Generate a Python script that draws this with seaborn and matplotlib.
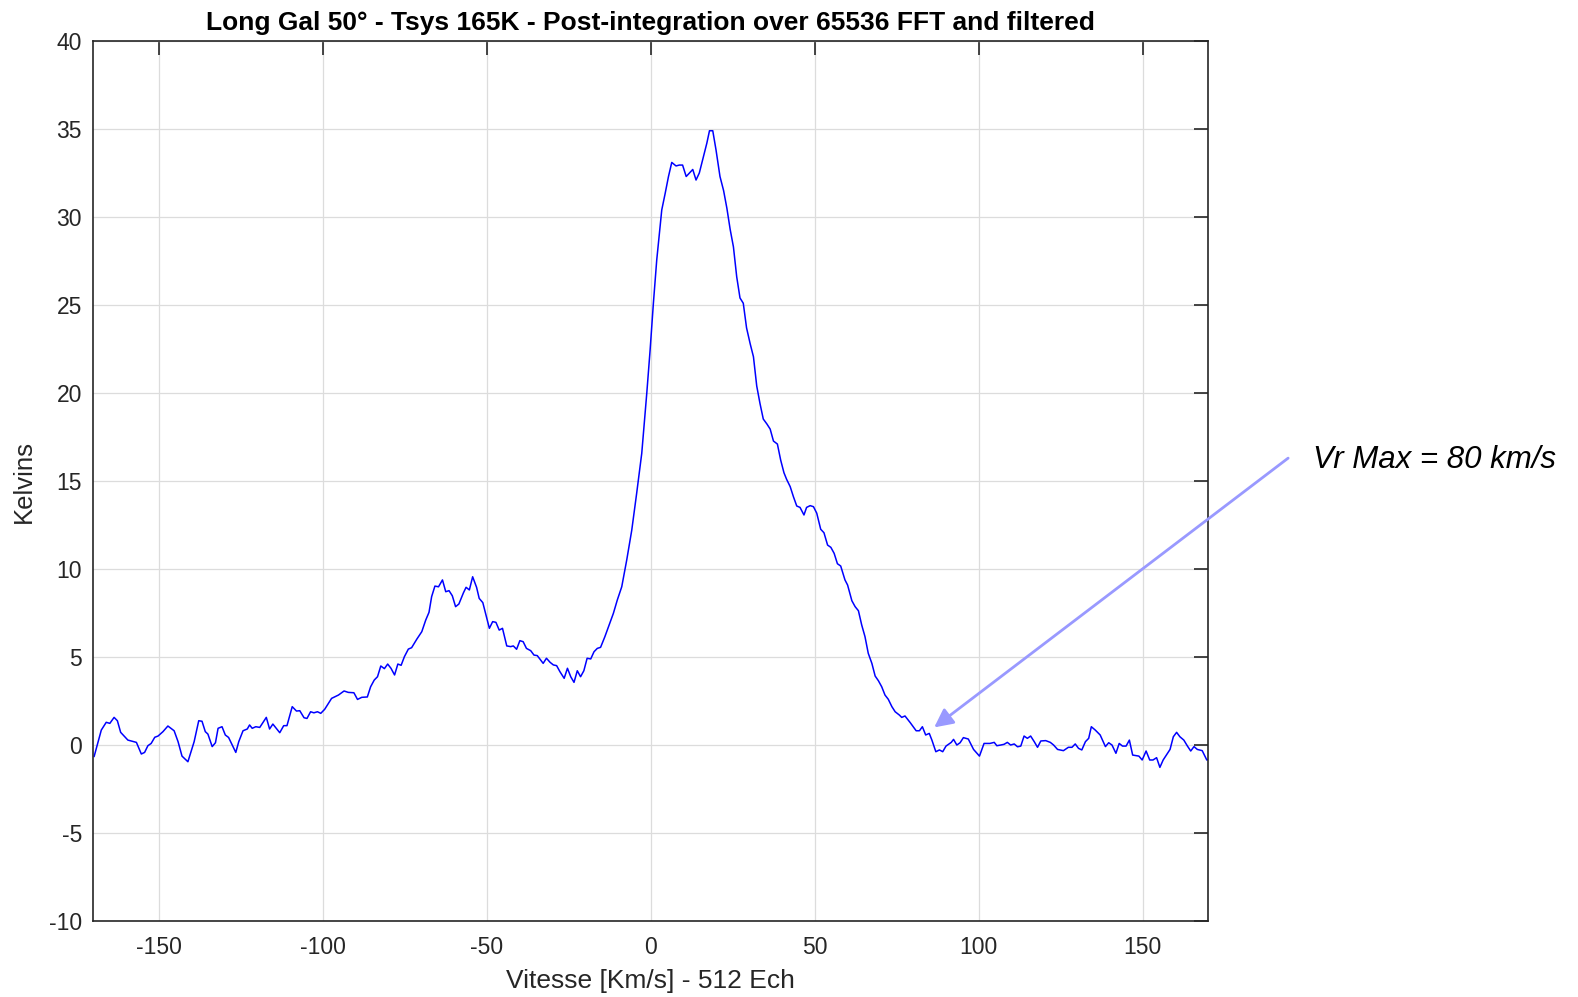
import numpy as np
import pandas as pd
import matplotlib
matplotlib.use("Agg")
import matplotlib.pyplot as plt
import seaborn as sns

# spectrum (velocity in km/s, temperature in K)
vitesse = [
    -169.7, -167.5, -166.0, -164.9, -163.6, -162.6, -161.6, -159.4, -156.8, -155.3,
    -154.3, -153.3, -152.3, -151.2, -150.2, -148.7, -147.2, -145.3, -144.1, -142.9,
    -141.1, -139.2, -137.8, -136.8, -135.8, -135.0, -133.7, -132.7, -131.9, -130.7,
    -129.7, -128.7, -126.5, -125.6, -124.3, -123.0, -122.3, -121.5, -120.4, -119.2,
    -117.2, -116.2, -115.2, -113.1, -111.9, -110.9, -109.3, -108.0, -107.0, -105.7,
    -104.8, -103.7, -102.7, -101.6, -100.6, -99.4, -97.3, -95.2, -93.5, -92.2,
    -90.5, -89.4, -88.1, -86.4, -85.4, -84.3, -83.3, -82.3, -81.2, -80.2,
    -79.2, -78.1, -77.1, -76.1, -75.1, -73.9, -72.9, -71.3, -69.8, -68.6,
    -67.6, -66.8, -65.8, -64.7, -63.5, -62.5, -61.5, -60.5, -59.5, -58.5,
    -57.1, -56.3, -55.3, -54.3, -53.1, -52.3, -51.2, -49.2, -48.2, -47.2,
    -46.2, -45.2, -43.9, -42.7, -41.9, -40.9, -39.9, -38.9, -37.9, -36.6,
    -35.6, -34.6, -33.6, -32.8, -31.8, -30.7, -29.7, -28.7, -27.7, -26.4,
    -25.4, -24.4, -23.4, -22.4, -21.4, -20.4, -19.4, -18.3, -17.3, -16.3,
    -15.3, -14.0, -12.5, -11.4, -10.2, -8.85, -7.33, -5.8, -4.3, -2.75,
    -1.22, -0.2, 0.8, 1.82, 3.35, 4.4, 5.4, 6.4, 7.7, 8.7,
    9.7, 10.8, 11.8, 12.8, 13.8, 14.8, 16.0, 17.1, 17.9, 18.9,
    19.9, 21.1, 22.2, 23.2, 24.2, 25.2, 26.2, 27.2, 28.2, 29.2,
    30.3, 31.3, 32.3, 33.3, 34.3, 35.4, 36.4, 37.4, 38.6, 39.6,
    40.6, 41.4, 42.5, 43.5, 44.5, 45.5, 46.7, 47.5, 48.6, 49.6,
    50.6, 51.8, 52.8, 53.9, 54.9, 55.9, 56.9, 57.9, 59.2, 60.0,
    61.3, 62.3, 63.3, 64.3, 65.3, 66.3, 67.4, 68.4, 69.4, 70.4,
    71.4, 72.4, 73.5, 74.5, 75.8, 76.5, 77.5, 79.1, 80.9, 81.9,
    82.8, 83.8, 84.9, 85.7, 86.9, 88.0, 89.0, 90.0, 91.6, 92.3,
    93.3, 94.3, 95.3, 96.8, 98.4, 100.2, 101.6, 103.4, 104.7, 105.5,
    106.7, 107.7, 108.7, 109.7, 110.8, 111.8, 112.8, 113.8, 114.8, 115.8,
    116.9, 117.9, 118.9, 120.4, 121.8, 122.8, 124.0, 125.8, 127.3, 128.4,
    129.4, 130.4, 131.4, 132.5, 133.5, 134.3, 135.5, 137.0, 138.6, 139.6,
    140.6, 141.8, 142.8, 143.8, 144.9, 145.9, 146.9, 148.8, 149.8, 151.0,
    152.1, 153.1, 154.2, 155.2, 156.2, 158.3, 159.3, 160.3, 161.3, 162.5,
    163.6, 164.6, 165.6, 166.6, 168.1, 169.5, 170.2,
]
kelvins = [
    -0.66, 0.85, 1.29, 1.23, 1.57, 1.38, 0.72, 0.28, 0.15, -0.51,
    -0.42, -0.04, 0.09, 0.44, 0.51, 0.76, 1.08, 0.81, 0.19, -0.63,
    -0.95, 0.19, 1.38, 1.35, 0.76, 0.62, -0.09, 0.13, 0.95, 1.04,
    0.57, 0.43, -0.42, 0.19, 0.81, 0.91, 1.14, 0.95, 1.04, 1.0,
    1.57, 0.91, 1.19, 0.70, 1.10, 1.10, 2.18, 1.93, 1.95, 1.55,
    1.51, 1.89, 1.83, 1.89, 1.8, 2.03, 2.65, 2.84, 3.07, 2.99,
    2.97, 2.59, 2.71, 2.73, 3.31, 3.69, 3.88, 4.49, 4.34, 4.60,
    4.36, 3.98, 4.60, 4.53, 5.02, 5.45, 5.53, 6.02, 6.44, 7.10,
    7.54, 8.43, 9.03, 8.99, 9.38, 8.71, 8.77, 8.48, 7.86, 8.01,
    8.65, 8.96, 8.81, 9.56, 8.96, 8.33, 8.09, 6.63, 7.01, 6.97,
    6.53, 6.63, 5.63, 5.59, 5.63, 5.44, 5.93, 5.87, 5.49, 5.36,
    5.11, 5.08, 4.83, 4.64, 4.93, 4.70, 4.55, 4.51, 4.17, 3.79,
    4.36, 3.88, 3.56, 4.22, 3.88, 4.22, 4.93, 4.89, 5.30, 5.49,
    5.55, 6.15, 6.91, 7.48, 8.24, 8.99, 10.51, 12.2, 14.3, 16.57,
    19.98, 22.44, 25.1, 27.56, 30.4, 31.35, 32.3, 33.1, 32.9, 32.95,
    32.95, 32.3, 32.5, 32.7, 32.1, 32.5, 33.4, 34.2, 34.9, 34.9,
    33.8, 32.3, 31.5, 30.5, 29.3, 28.3, 26.6, 25.4, 25.1, 23.7,
    22.8, 22.06, 20.4, 19.4, 18.52, 18.24, 17.95, 17.27, 17.1, 16.19,
    15.47, 15.1, 14.68, 14.1, 13.58, 13.5, 13.07, 13.5, 13.6, 13.54,
    13.17, 12.26, 12.06, 11.36, 11.23, 10.89, 10.3, 10.17, 9.38, 9.09,
    8.2, 7.86, 7.63, 6.82, 6.16, 5.21, 4.64, 3.92, 3.65, 3.31,
    2.84, 2.6, 2.18, 1.89, 1.7, 1.57, 1.65, 1.27, 0.81, 0.81,
    1.04, 0.57, 0.66, 0.28, -0.38, -0.28, -0.38, -0.06, 0.15, 0.32,
    0.0, 0.13, 0.42, 0.34, -0.25, -0.63, 0.09, 0.09, 0.15, -0.04,
    0.0, 0.04, 0.15, 0.0, 0.06, -0.1, -0.06, 0.51, 0.38, 0.51,
    0.19, -0.13, 0.23, 0.25, 0.15, 0.0, -0.25, -0.32, -0.13, -0.13,
    0.06, -0.19, -0.28, 0.19, 0.38, 1.04, 0.85, 0.57, -0.09, 0.13,
    0.0, -0.47, 0.09, -0.06, -0.06, 0.28, -0.57, -0.63, -0.85, -0.34,
    -0.85, -0.85, -0.72, -1.27, -0.85, -0.25, 0.47, 0.72, 0.47, 0.28,
    -0.06, -0.34, -0.09, -0.25, -0.32, -0.85, -0.81,
]

x_ticks = [-150, -100, -50, 0, 50, 100, 150]
y_ticks = [-10, -5, 0, 5, 10, 15, 20, 25, 30, 35, 40]

df = pd.DataFrame({"vitesse": vitesse, "kelvins": kelvins})

sns.set_style("white")
plt.rcParams["font.family"] = ["Liberation Sans", "DejaVu Sans"]
plt.rcParams["axes.unicode_minus"] = False

fig = plt.figure(figsize=(15.78, 9.97), dpi=100)
ax = fig.add_axes([0.059, 0.0762, 0.7068, 0.8827])

sns.lineplot(data=df, x="vitesse", y="kelvins", ax=ax, color="#0000ff",
             linewidth=1.1, sort=False)

ax.set_xlim(-170, 170)
ax.set_ylim(-10, 40)
ax.set_xticks(x_ticks)
ax.set_yticks(y_ticks)
ax.grid(True, color="#dcdcdc", linewidth=0.9)
ax.set_axisbelow(True)
ax.tick_params(direction="in", length=10, width=1.2, top=True, right=True,
               labelsize=16.5, colors="#262626")
ax.tick_params(axis="x", pad=11)
ax.tick_params(axis="y", pad=8)
for s in ax.spines.values():
    s.set_linewidth(1.2)
    s.set_color("#262626")

ax.set_xlabel("Vitesse [Km/s] - 512 Ech", fontsize=19, color="#262626", labelpad=7)
ax.set_ylabel("Kelvins", fontsize=18.5, color="#262626", labelpad=9)
ax.set_title("Long Gal 50° - Tsys 165K - Post-integration over 65536 FFT and filtered",
             fontsize=19, fontweight="bold", pad=8, color="black")

ax.annotate("", xy=(86.4, 1.0), xytext=(194.3, 16.3), annotation_clip=False,
            arrowprops=dict(arrowstyle="-|>", color="#9999ff", lw=2,
                            mutation_scale=28, shrinkA=0, shrinkB=0))
ax.text(201.9, 16.2, "Vr Max = 80 km/s", fontsize=22.5, style="italic",
        ha="left", va="center", clip_on=False, color="black")

fig.savefig("out.png", dpi=100)
